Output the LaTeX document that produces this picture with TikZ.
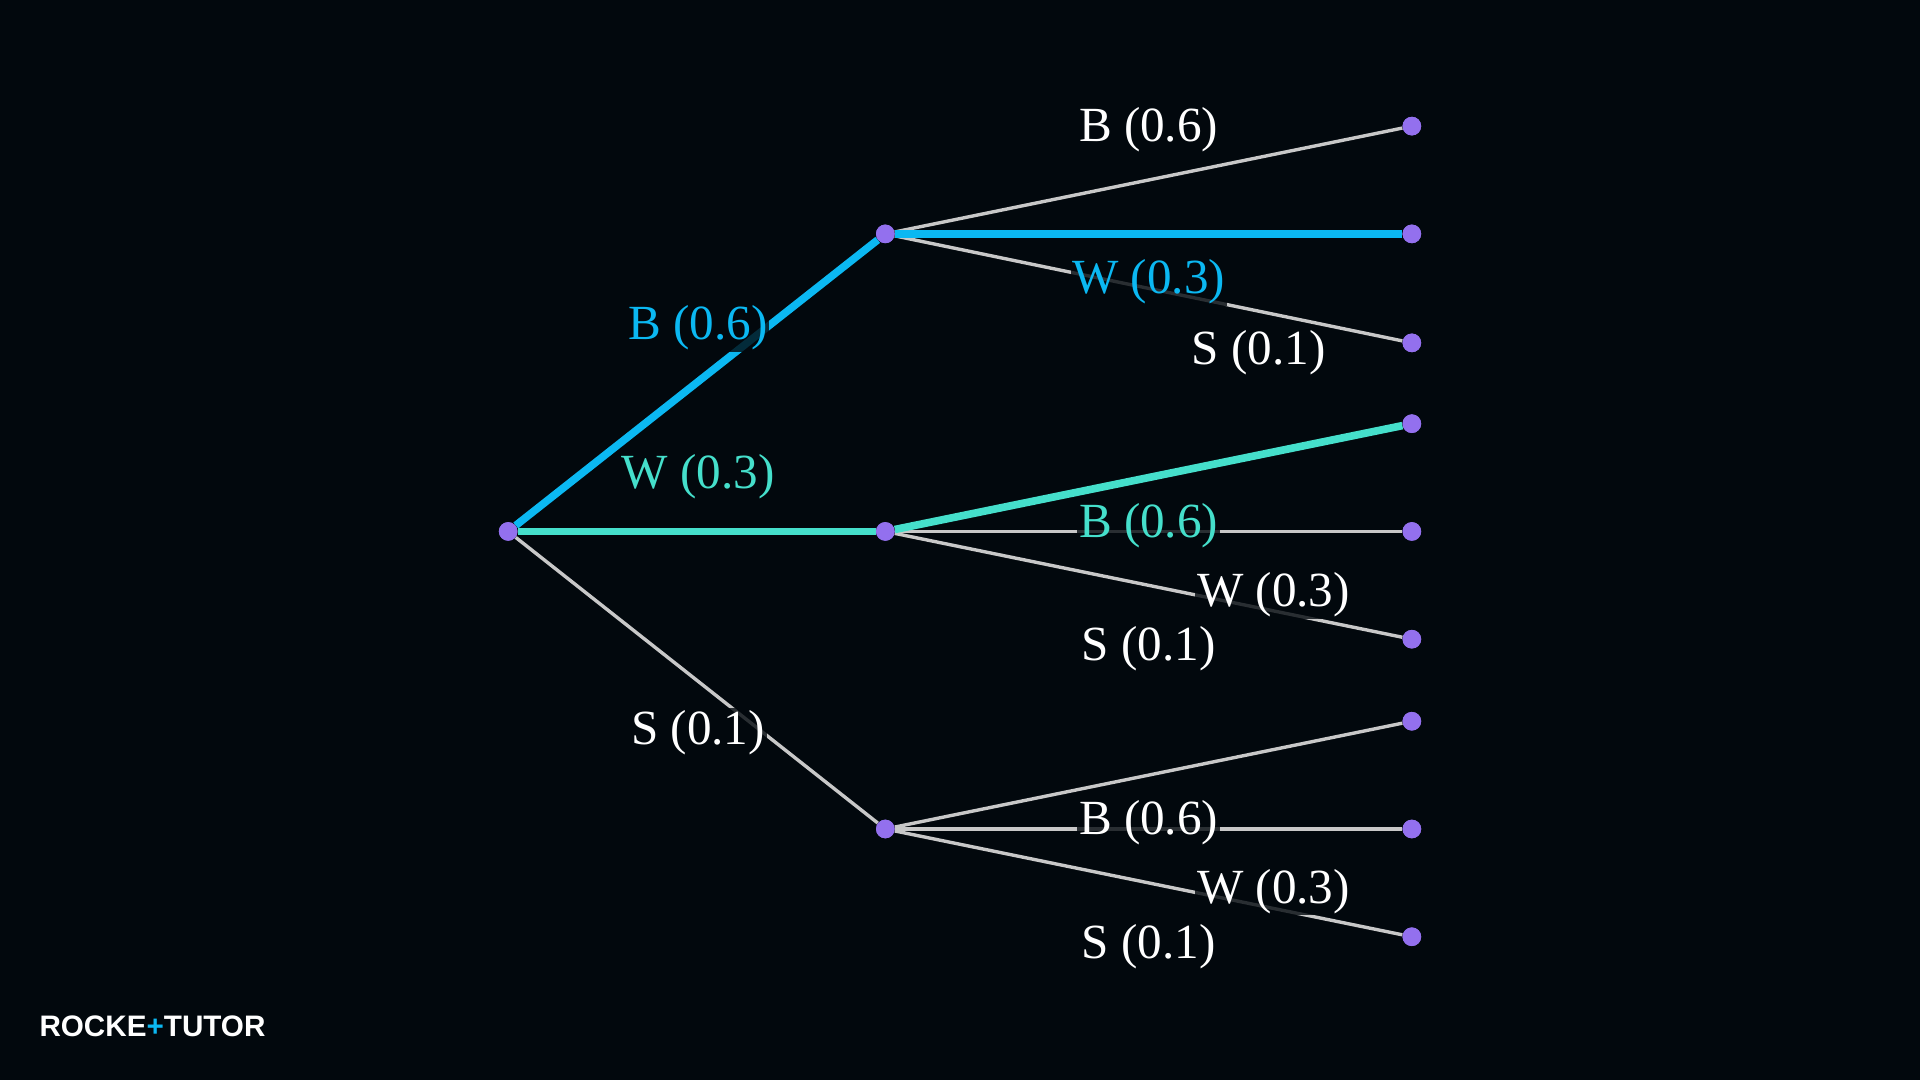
\documentclass[tikz,border=0pt]{standalone}
\usepackage{fontspec}
\setmainfont{Liberation Serif}
\newfontfamily\logofont{Liberation Sans}
\definecolor{bgdark}{HTML}{02080D}
\definecolor{pathblue}{HTML}{0BB8F2}
\definecolor{pathteal}{HTML}{45DFCB}
\definecolor{branchgrey}{HTML}{C8C8C8}
\definecolor{dotpurple}{HTML}{9370EE}
\tikzset{
  dot/.style={circle,fill=dotpurple,inner sep=0pt,minimum size=11pt},
  branch/.style={draw=branchgrey,line width=2pt},
  hiblue/.style={draw=pathblue,line width=4.5pt},
  hiteal/.style={draw=pathteal,line width=4.5pt},
  prob/.style={fill=bgdark,fill opacity=.8,text opacity=1,inner sep=1pt,font=\fontsize{29}{32}\selectfont}
}
\begin{document}
\begin{tikzpicture}[x=0.0254cm,y=-0.0254cm]
  \fill[bgdark] (0,0) rectangle (1568,882);
  \useasboundingbox (0,0) rectangle (1568,882);
  % tree points
  \node[dot] (root) at (415,434) {};
  \node[dot] (mb) at (723,191) {};
  \node[dot] (mw) at (723,434) {};
  \node[dot] (ms) at (723,677) {};
  \foreach \y/\n in {103/bb,191/bw,280/bs,346/wb,434/ww,522/ws,589/sb,677/sw,765/ss}
    \node[dot] (\n) at (1153,\y) {};
  % branches
  \path[branch] (root) -- (ms);
  \path[branch] (mb) -- (bb);
  \path[branch] (mb) -- (bs);
  \path[branch] (mw) -- (ww);
  \path[branch] (mw) -- (ws);
  \path[branch] (ms) -- (sb);
  \path[branch] (ms) -- (sw);
  \path[branch] (ms) -- (ss);
  \path[hiblue] (root) -- (mb);
  \path[hiblue] (mb) -- (bw);
  \path[hiteal] (root) -- (mw);
  \path[hiteal] (mw) -- (wb);
  \foreach \n in {root,mb,mw,ms,bb,bw,bs,wb,ww,ws,sb,sw,ss}
    \node[dot] at (\n) {};
  % probabilities
  \node[prob,text=pathblue] (lb) at (570,268) {B (0.6)};
  \node[prob,text=pathteal] (lw) at (570,389) {W (0.3)};
  \node[prob,text=white] (ls) at (570,598) {S (0.1)};
  \node[prob,text=white] (lbb) at (938,106) {B (0.6)};
  \node[prob,text=pathblue] (lbw) at (938,230) {W (0.3)};
  \node[prob,text=white] (lbs) at (1028,288) {S (0.1)};
  \node[prob,text=pathteal] (lwb) at (938,429) {B (0.6)};
  \node[prob,text=white] (lww) at (1040,486) {W (0.3)};
  \node[prob,text=white] (lws) at (938,530) {S (0.1)};
  \node[prob,text=white] (lsb) at (938,672) {B (0.6)};
  \node[prob,text=white] (lsw) at (1040,728) {W (0.3)};
  \node[prob,text=white] (lss) at (938,773) {S (0.1)};
  % logo
  \node[anchor=west,text=white,inner sep=0pt,font=\logofont\bfseries\fontsize{17.5}{19}\selectfont] (logo) at (32,838) {ROCKE{\color{pathblue}+}TUTOR};
\end{tikzpicture}
\end{document}
